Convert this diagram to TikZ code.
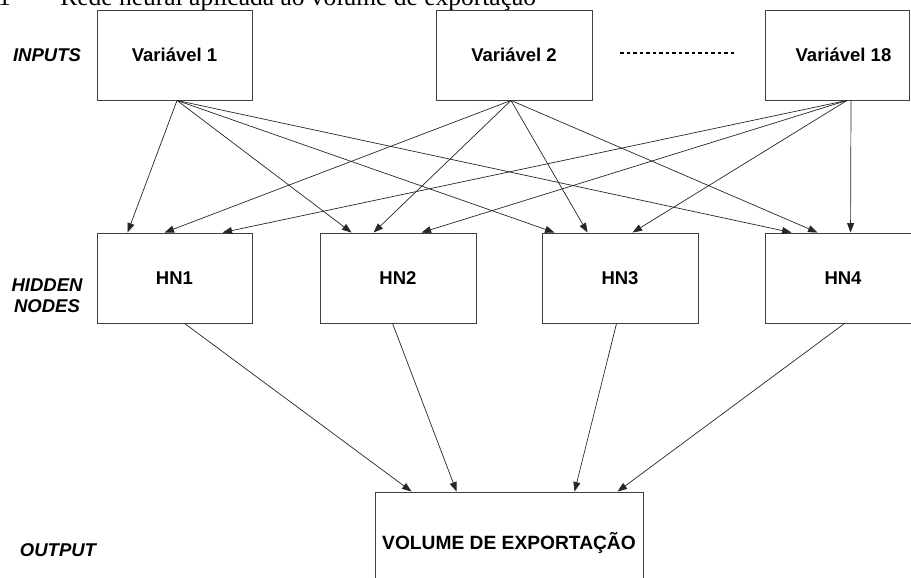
\documentclass[tikz,border=0pt]{standalone}
\usepackage{fontspec}
\setmainfont{Liberation Sans}
\newfontfamily\capfont{Liberation Serif}
\usetikzlibrary{arrows.meta}
\begin{document}
\begin{tikzpicture}[x=1pt,y=-1pt,
  box/.style={draw=black!75, line width=0.9pt, fill=white, inner sep=0pt,
              font=\fontsize{18.5}{21}\selectfont\bfseries},
  lbl/.style={font=\fontsize{18.5}{21}\selectfont\bfseries\itshape, align=center, inner sep=0pt},
  link/.style={line width=0.7pt, draw=black!85, -{Triangle[length=9.5pt,width=7pt]}},
  capt/.style={font=\capfont\fontsize{25.5}{28}\selectfont, inner sep=0pt}]
\useasboundingbox (0,0) rectangle (911,578);
% caption (cut off at top, as in the reference)
\node[capt, anchor=base east] (capa) at (11,6) {Figura 1};
\node[capt, anchor=base west] (capb) at (41,6) {– Rede neural aplicada ao volume de exportação};
% input boxes
\node[box, minimum width=155pt, minimum height=90pt] (v1) at (174.5,55) {Variável 1};
\node[box, minimum width=156pt, minimum height=90pt] (v2) at (514,55) {Variável 2};
\node[box, minimum width=144pt, minimum height=90pt] (v18) at (837,55) {\hspace*{13pt}Variável 18};
% hidden boxes
\node[box, minimum width=155pt, minimum height=90pt] (h1) at (174.5,278) {HN1};
\node[box, minimum width=156pt, minimum height=90pt] (h2) at (398,278) {HN2};
\node[box, minimum width=156pt, minimum height=90pt] (h3) at (620,278) {HN3};
\node[box, minimum width=156pt, minimum height=90pt] (h4) at (843,278) {HN4};
% output box
\node[box, minimum width=268pt, minimum height=102pt, font=\fontsize{19.2}{22}\selectfont\bfseries] (out) at (509,543) {VOLUME DE EXPORTAÇÃO};
% row labels
\node[lbl] (inp) at (47,55) {INPUTS};
\node[lbl] (hid) at (47,296) {HIDDEN\\NODES};
\node[lbl] (outl) at (58,550) {OUTPUT};
% dotted ellipsis
\draw[line width=1.1pt, dash pattern=on 3.5pt off 3pt] ([xshift=28pt,yshift=2pt]v2.east) -- ([xshift=-30pt,yshift=2pt]v18.west);
% Variavel 1 -> hidden
\draw[link] ([xshift=2.5pt]v1.south) -- ([xshift=31pt]h1.north west);
\draw[link] ([xshift=2.5pt]v1.south) -- ([xshift=32pt]h2.north west);
\draw[link] ([xshift=2.5pt]v1.south) -- ([xshift=13pt]h3.north west);
\draw[link] ([xshift=2.5pt]v1.south) -- ([xshift=27pt]h4.north west);
% Variavel 2 -> hidden
\draw[link] ([xshift=-3pt]v2.south) -- ([xshift=68pt]h1.north west);
\draw[link] ([xshift=-3pt]v2.south) -- ([xshift=54pt]h2.north west);
\draw[link] ([xshift=-3pt]v2.south) -- ([xshift=46pt]h3.north west);
\draw[link] ([xshift=-3pt]v2.south) -- ([xshift=53pt]h4.north west);
% Variavel 18 -> hidden
\draw[link] ([xshift=10pt]v18.south) -- ([xshift=126pt]h1.north west);
\draw[link] ([xshift=10pt]v18.south) -- ([xshift=102pt]h2.north west);
\draw[link] ([xshift=10pt]v18.south) -- ([xshift=91pt]h3.north west);
\draw[link] ([xshift=14pt]v18.south) -- ([xshift=86pt]h4.north west);
% hidden -> output
\draw[link] ([xshift=88pt]h1.south west) -- ([xshift=37pt]out.north west);
\draw[link] ([xshift=73pt]h2.south west) -- ([xshift=82pt]out.north west);
\draw[link] ([xshift=75pt]h3.south west) -- ([xshift=200pt]out.north west);
\draw[link] ([xshift=80pt]h4.south west) -- ([xshift=243pt]out.north west);
\end{tikzpicture}
\end{document}
